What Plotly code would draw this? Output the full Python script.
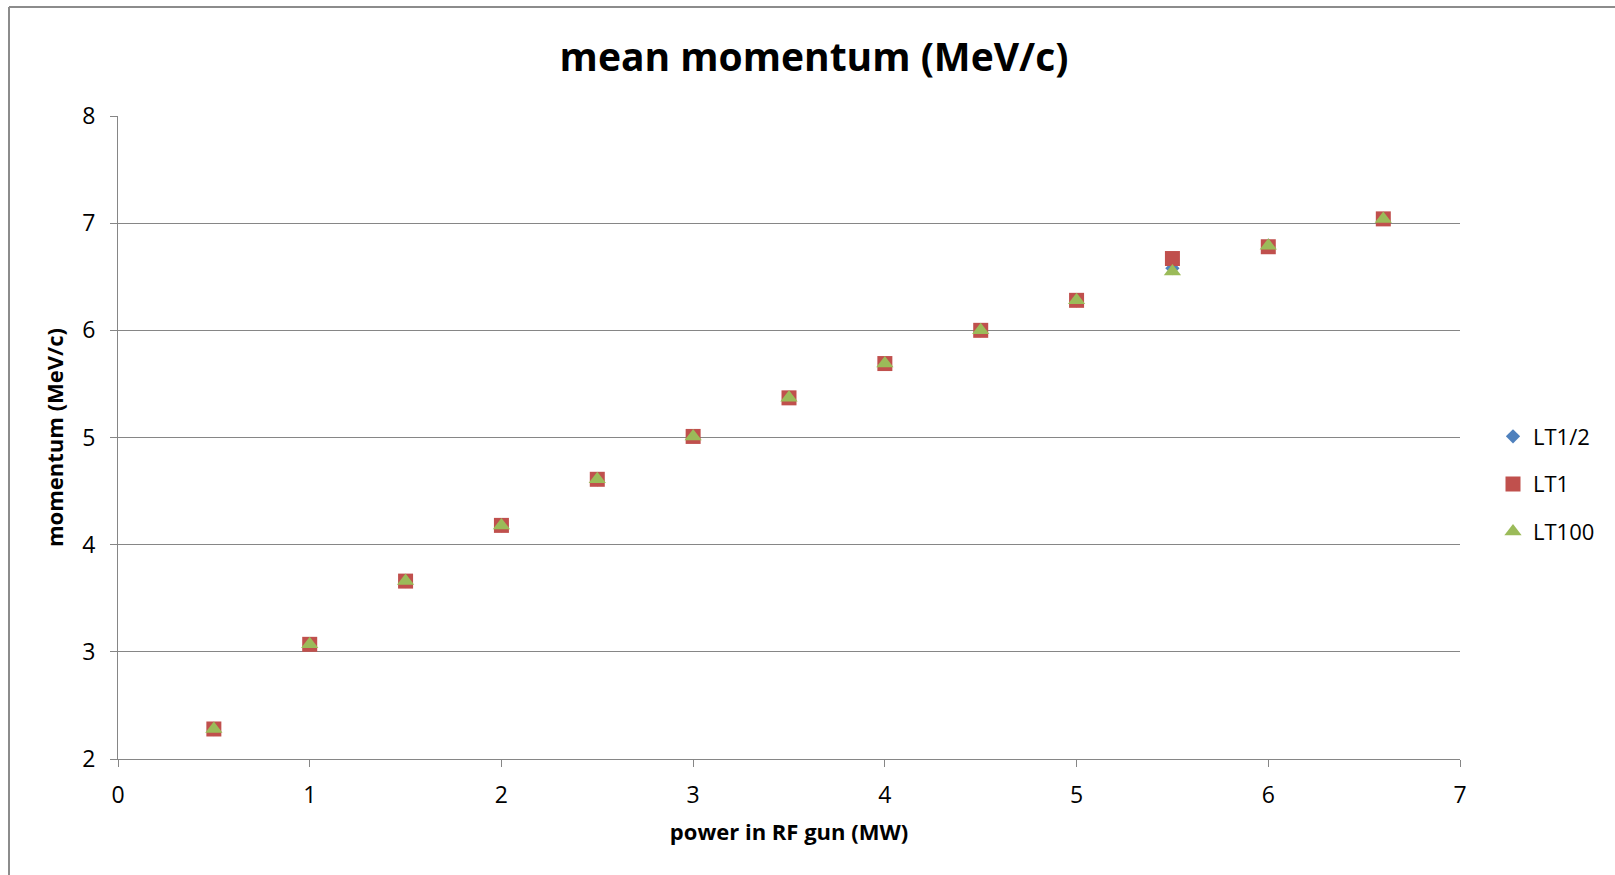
import plotly.graph_objects as go

# ---- data ----
power = [0.5, 1.0, 1.5, 2.0, 2.5, 3.0, 3.5, 4.0, 4.5, 5.0, 5.5, 6.0, 6.6]
lt_half = [2.28, 3.07, 3.66, 4.18, 4.61, 5.01, 5.37, 5.69, 6.00, 6.28, 6.58, 6.79, 7.04]
lt_1 = [2.28, 3.07, 3.66, 4.18, 4.61, 5.01, 5.37, 5.69, 6.00, 6.28, 6.67, 6.78, 7.04]
lt_100 = [2.28, 3.07, 3.66, 4.18, 4.61, 5.01, 5.37, 5.69, 6.00, 6.28, 6.55, 6.79, 7.04]

series_names = ["LT1/2", "LT1", "LT100"]
x_ticks = [0, 1, 2, 3, 4, 5, 6, 7]
y_ticks = [2, 3, 4, 5, 6, 7, 8]

W, H = 1615, 875
ML, MR, MT, MB = 118, 155, 116, 116
PW, PH = W - ML - MR, H - MT - MB

FONT = "Open Sans"
GRID = "#868686"

fig = go.Figure()
styles = [
    dict(symbol="diamond", size=11, color="#4F81BD"),
    dict(symbol="square", size=15, color="#C0504D"),
    dict(symbol="triangle-up", size=15, color="#9BBB59"),
]
for name, ys, st in zip(series_names, [lt_half, lt_1, lt_100], styles):
    fig.add_trace(go.Scatter(
        x=power, y=ys, mode="markers", name=name, legendgroup=name,
        marker=dict(symbol=st["symbol"], size=st["size"], color=st["color"],
                    line=dict(width=0)),
    ))

def px_to_paper_x(px):
    return (px - ML) / PW

def px_to_paper_y(py):
    return 1 - (py - MT) / PH

fig.update_layout(
    width=W, height=H,
    margin=dict(l=ML, r=MR, t=MT, b=MB, autoexpand=False),
    paper_bgcolor="white", plot_bgcolor="white",
    font=dict(family=FONT, color="#000000"),
    title=dict(text="<b>mean momentum (MeV/c)</b>", x=814 / W, xanchor="center",
               xref="container", y=1 - 57 / H, yanchor="middle",
               font=dict(size=39, family=FONT)),
    showlegend=True,
    legend=dict(x=px_to_paper_x(1493), y=px_to_paper_y(484), yanchor="middle",
                xanchor="left", font=dict(size=22, family=FONT),
                tracegroupgap=16, itemsizing="trace",
                bgcolor="rgba(0,0,0,0)"),
    xaxis=dict(range=[0, 7], tickvals=x_ticks, showgrid=False, zeroline=False,
               showline=True, linecolor=GRID, linewidth=1,
               ticks="outside", ticklen=7, tickcolor=GRID,
               ticklabelstandoff=8,
               tickfont=dict(size=23, family=FONT),
               title=dict(text="<b>power in RF gun (MW)</b>",
                          font=dict(size=22, family=FONT), standoff=16)),
    yaxis=dict(range=[2, 8], tickvals=y_ticks, showgrid=True, gridcolor=GRID,
               gridwidth=1, zeroline=False, showline=True, linecolor=GRID,
               linewidth=1, ticks="outside", ticklen=7, tickcolor=GRID,
               ticklabelstandoff=10,
               tickfont=dict(size=23, family=FONT),
               title=dict(text="<b>momentum (MeV/c)</b>",
                          font=dict(size=22, family=FONT), standoff=12)),
)

# outer chart-area border (left and top edges visible)
fig.add_shape(type="line", xref="paper", yref="paper",
              x0=px_to_paper_x(9), x1=px_to_paper_x(9),
              y0=px_to_paper_y(7), y1=px_to_paper_y(H + 10),
              line=dict(color="#8C8C8C", width=2))
fig.add_shape(type="line", xref="paper", yref="paper",
              x0=px_to_paper_x(9), x1=px_to_paper_x(W + 10),
              y0=px_to_paper_y(7), y1=px_to_paper_y(7),
              line=dict(color="#8C8C8C", width=2))

fig.write_html("out.html")
